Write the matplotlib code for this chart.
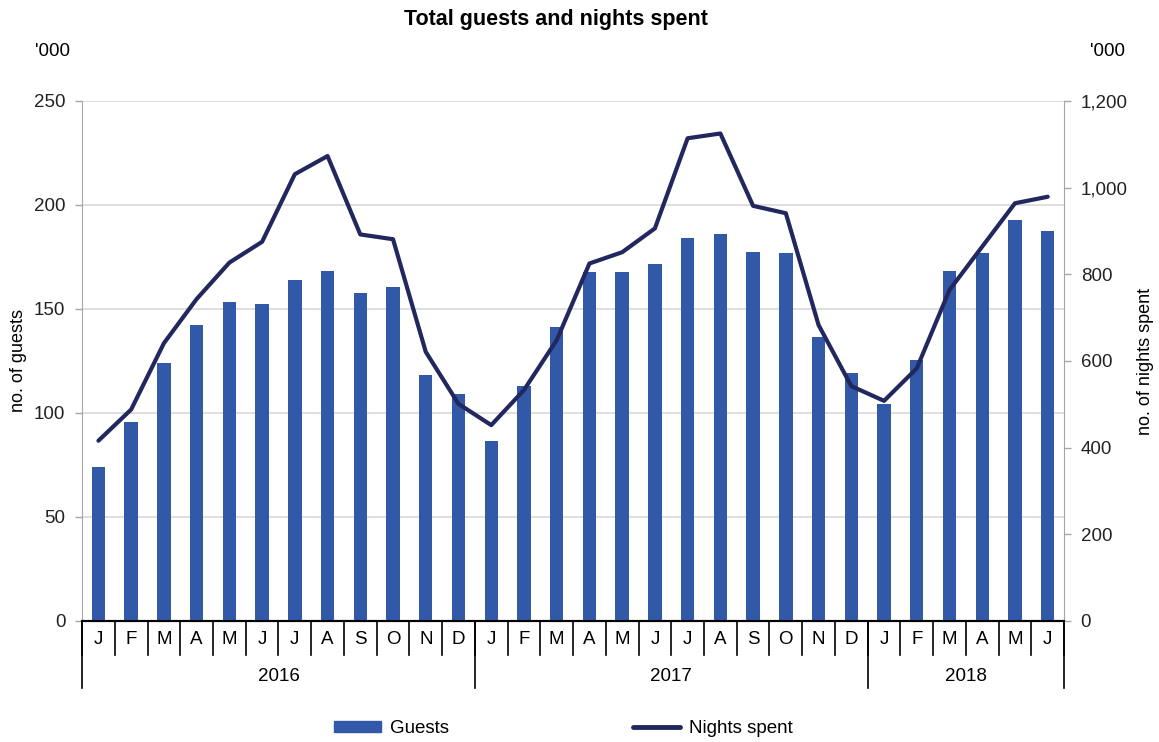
import matplotlib.pyplot as plt
from matplotlib.patches import Patch
from matplotlib.lines import Line2D

months = ["J", "F", "M", "A", "M", "J", "J", "A", "S", "O", "N", "D",
          "J", "F", "M", "A", "M", "J", "J", "A", "S", "O", "N", "D",
          "J", "F", "M", "A", "M", "J"]
years = ["2016", "2017", "2018"]
year_len = [12, 12, 6]

guests = [74, 95.5, 124.2, 142.5, 153.2, 152.4, 163.8, 168.1, 157.5, 160.4, 118.3, 109.1,
          86.7, 113.1, 141.5, 167.6, 167.6, 171.5, 184.1, 186.2, 177.4, 177.1, 136.5, 119.3,
          104.2, 125.3, 168.1, 176.9, 192.9, 187.5]
nights = [416, 488, 641, 743, 827, 875, 1031, 1073, 892, 881, 621, 501,
          452, 533, 648, 825, 851, 906, 1114, 1125, 958, 941, 683, 542,
          508, 583, 764, 864, 964, 979]

BAR = "#3259a8"
LINE = "#22285e"
GREY = "#a6a6a6"

plt.rcParams["font.family"] = ["Liberation Sans", "DejaVu Sans"]
plt.rcParams["font.size"] = 13.5

fig = plt.figure(figsize=(11.59, 7.42), dpi=100)
ax = fig.add_axes([0.0708, 0.1631, 0.8473, 0.7008])
ax2 = ax.twinx()

x = list(range(len(months)))

ax.bar(x, guests, width=0.41, color=BAR, zorder=3)
ax2.plot(x, nights, color=LINE, linewidth=3, solid_capstyle="round", zorder=4)

ax.set_xlim(-0.5, len(months) - 0.5)
ax.set_ylim(0, 250)
ax.set_yticks(range(0, 251, 50))
ax2.set_ylim(0, 1200)
ax2.set_yticks(range(0, 1201, 200))
ax2.set_yticklabels([f"{v:,}" for v in range(0, 1201, 200)])

ax.grid(axis="y", color="#d9d9d9", linewidth=1.2, zorder=0)
ax.set_axisbelow(True)

for a in (ax, ax2):
    a.spines["top"].set_visible(False)
    a.spines["left"].set_color(GREY)
    a.spines["right"].set_color(GREY)
    a.spines["bottom"].set_color("black")
    a.spines["bottom"].set_linewidth(1.5)
    a.tick_params(axis="y", colors="#222222", length=5, width=1, color=GREY, pad=7)
ax2.spines["left"].set_visible(False)
ax.spines["right"].set_visible(False)

ax.set_xticks([])
ax.set_ylabel("no. of guests", labelpad=5, fontsize=13)
ax2.set_ylabel("no. of nights spent", labelpad=7, fontsize=13)

ax.text(-0.012, 1.096, "'000", transform=ax.transAxes, ha="right", va="center")
ax2.text(1.026, 1.096, "'000", transform=ax2.transAxes, ha="left", va="center")

fig.text(0.48, 0.974, "Total guests and nights spent", ha="center", va="center",
         fontsize=15.5, fontweight="bold")

# two level category axis
trans = ax.get_xaxis_transform()
for i, m in enumerate(months):
    ax.text(i, -0.035, m, transform=trans, ha="center", va="center")
for i in range(len(months) + 1):
    ax.plot([i - 0.5, i - 0.5], [0, -0.065], transform=trans, color="black",
            linewidth=1.2, clip_on=False)
start = 0
for yr, n in zip(years, year_len):
    ax.plot([start - 0.5, start - 0.5], [0, -0.129], transform=trans, color="black",
            linewidth=1.2, clip_on=False)
    ax.text(start + n / 2 - 0.5, -0.106, yr, transform=trans, ha="center", va="center")
    start += n
ax.plot([start - 0.5, start - 0.5], [0, -0.129], transform=trans, color="black",
        linewidth=1.2, clip_on=False)

handles = [Patch(color=BAR), Line2D([0], [0], color=LINE, linewidth=3.5, solid_capstyle="round")]
fig.legend(handles, ["Guests", "Nights spent"], loc="center", bbox_to_anchor=(0.486, 0.018),
           ncol=2, frameon=False, handlelength=2.5, handleheight=0.5,
           handletextpad=0.5, columnspacing=9.8)

fig.savefig("out.png", dpi=100)
